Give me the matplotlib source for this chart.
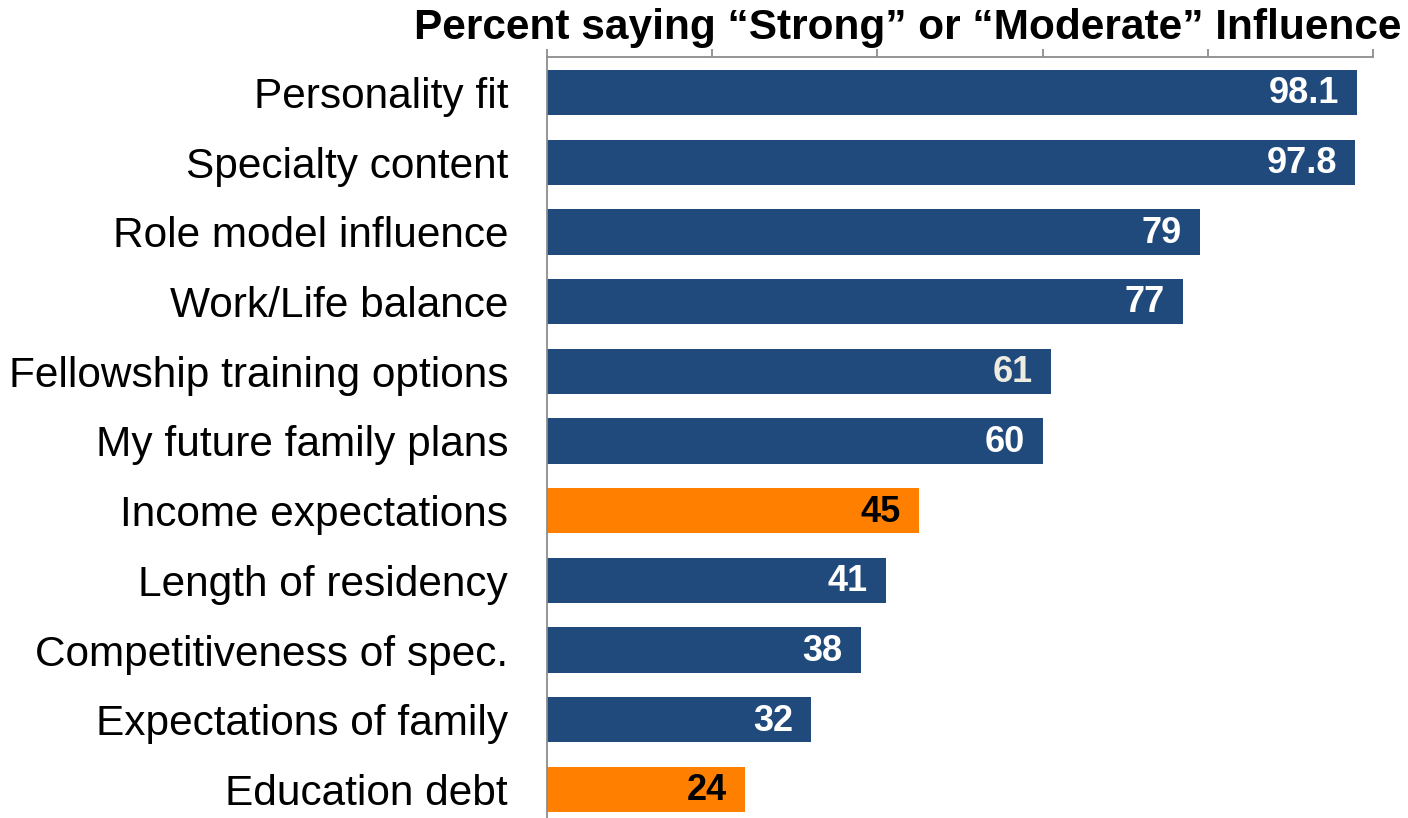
import matplotlib
matplotlib.use("Agg")
import matplotlib.pyplot as plt

factors = [
    "Personality fit", "Specialty content", "Role model influence",
    "Work/Life balance", "Fellowship training options", "My future family plans",
    "Income expectations", "Length of residency", "Competitiveness of spec.",
    "Expectations of family", "Education debt",
]
values = [98.1, 97.8, 79, 77, 61, 60, 45, 41, 38, 32, 24]
value_text = ["98.1", "97.8", "79", "77", "61", "60", "45", "41", "38", "32", "24"]
financial = ["Income expectations", "Education debt"]

BLUE = "#214A7C"
ORANGE = "#FF8000"
AXIS_GRAY = "#8C8C8C"

plt.rcParams["font.family"] = ["Liberation Sans", "DejaVu Sans"]

fig = plt.figure(figsize=(14.08, 8.18), dpi=100)
ax = fig.add_axes([547 / 1408, 0.0, (1373 - 547) / 1408, 1 - 57 / 818])

ypos = list(range(len(factors)))
colors = [ORANGE if f in financial else BLUE for f in factors]
ax.barh(ypos, values, height=0.65, color=colors, zorder=2)

for y, v, t, f in zip(ypos, values, value_text, factors):
    if f in financial:
        tc = "black"
    elif t == "61":
        tc = "#EEECE1"
    else:
        tc = "white"
    ax.annotate(t, xy=(v, y), xytext=(-13, -1), textcoords="offset points",
                ha="right", va="center", fontsize=26, fontweight="bold", color=tc)

ax.set_xlim(0, 100)
ax.set_ylim(10.41, -0.51)
ax.set_yticks(ypos)
ax.set_yticklabels(factors, fontsize=30.5)
ax.tick_params(axis="y", length=0, pad=28)

ax.xaxis.tick_top()
ax.set_xticks([0, 20, 40, 60, 80, 100])
ax.tick_params(axis="x", direction="out", length=6, width=1.3, color=AXIS_GRAY,
               labeltop=False, labelbottom=False)

for side in ("right", "bottom"):
    ax.spines[side].set_visible(False)
for side in ("top", "left"):
    ax.spines[side].set_color(AXIS_GRAY)
    ax.spines[side].set_linewidth(1.3)

fig.text(908 / 1408, 1 - 28 / 818, "Percent saying \u201cStrong\u201d or \u201cModerate\u201d Influence",
         ha="center", va="center", fontsize=30.5, fontweight="bold")

fig.savefig("out.png", dpi=100)
